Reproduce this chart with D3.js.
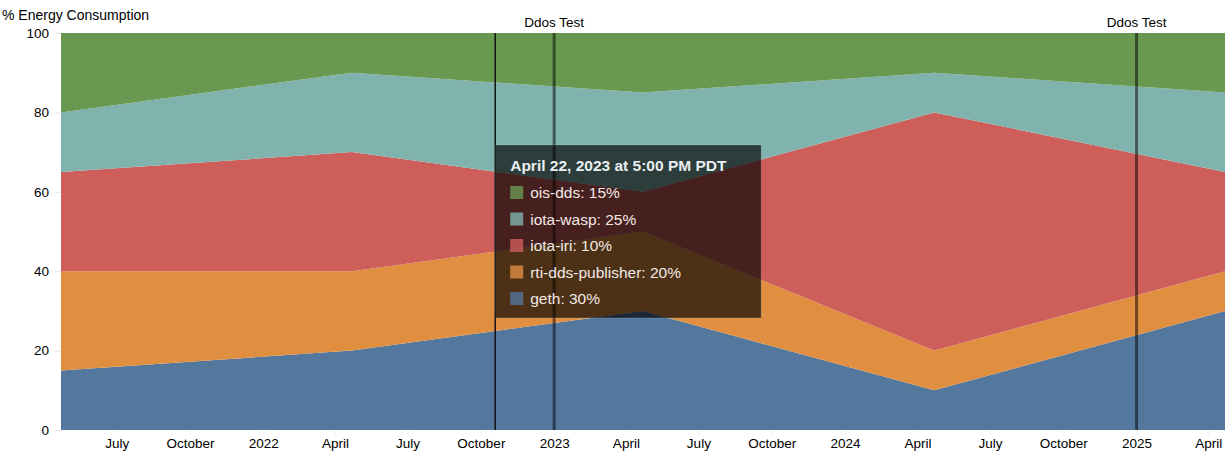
<!DOCTYPE html>
<html>
<head>
<meta charset="utf-8">
<script src="https://cdn.jsdelivr.net/npm/d3@7"></script>
<style>
  body { margin: 0; background: #fff; }
  text { font-family: "Liberation Sans", Arial, Helvetica, sans-serif; }
</style>
</head>
<body>
<script>
//sample dates (one reading a year)
var dates = ["2021-04-22", "2022-04-22", "2023-04-22", "2024-04-22", "2025-04-22"];

//share of energy per process, bottom to top
var geth = [15, 20, 30, 10, 30];
var rtiDdsPublisher = [25, 20, 20, 10, 10];
var iotaIri = [25, 30, 10, 60, 25];
var iotaWasp = [15, 20, 25, 10, 20];
var oisDds = [20, 10, 15, 10, 15];

var seriesNames = ["geth", "rti-dds-publisher", "iota-iri", "iota-wasp", "ois-dds"];
var seriesColors = ["#54779e", "#e08f41", "#cd5e5a", "#80b3ad", "#699951"];

var yTicks = [0, 20, 40, 60, 80, 100];

//annotation markers
var annotationDates = ["2023-01-01", "2025-01-01"];
var annotationLabels = ["Ddos Test", "Ddos Test"];

//hover state shown in the picture
var cursorDate = "2022-10-19";
var tooltipIndex = 2;
var tooltipTitle = "April 22, 2023 at 5:00 PM PDT";

window.onload = drawChart();

function drawChart(){
    var width = 1225,
        height = 453;
    var margin = {top: 33, right: 0, bottom: 23, left: 61};

    var parse = d3.timeParse("%Y-%m-%d");

    var svg = d3.select("body")
        .append("svg")
        .attr("width", width)
        .attr("height", height);

    var x = d3.scaleTime()
        .domain([parse(dates[0]), parse(dates[dates.length - 1])])
        .range([margin.left, width - margin.right]);

    var y = d3.scaleLinear()
        .domain([0, 100])
        .range([height - margin.bottom, margin.top]);

    //build rows for the stack
    var seriesValues = [geth, rtiDdsPublisher, iotaIri, iotaWasp, oisDds];
    var rows = dates.map(function(d, i){
        var row = {date: parse(d)};
        seriesNames.forEach(function(name, j){
            row[name] = seriesValues[j][i];
        });
        return row;
    });

    var stacked = d3.stack().keys(seriesNames)(rows);

    var area = d3.area()
        .x(function(d){ return x(d.data.date); })
        .y0(function(d){ return y(d[0]); })
        .y1(function(d){ return y(d[1]); });

    svg.selectAll(".layer")
        .data(stacked)
        .enter()
        .append("path")
        .attr("class", "layer")
        .attr("fill", function(d, i){ return seriesColors[i]; })
        .attr("d", area);

    //y axis
    var yAxis = svg.append("g")
        .attr("transform", "translate(" + margin.left + ",0)")
        .call(d3.axisLeft(y).tickValues(yTicks).tickSize(6).tickPadding(6));
    yAxis.select(".domain").remove();
    yAxis.selectAll(".tick line").attr("stroke", "#e6e6e6");
    yAxis.selectAll(".tick text")
        .attr("font-size", 13.5)
        .attr("fill", "#000");

    svg.append("text")
        .attr("x", 2)
        .attr("y", 20)
        .attr("font-size", 14)
        .attr("fill", "#000")
        .text("% Energy Consumption");

    //x axis
    var fmtMonth = d3.timeFormat("%B"),
        fmtYear = d3.timeFormat("%Y");
    var xAxis = svg.append("g")
        .attr("transform", "translate(0," + (height - margin.bottom) + ")")
        .call(d3.axisBottom(x)
            .ticks(d3.timeMonth.every(3))
            .tickSize(5)
            .tickPadding(3)
            .tickFormat(function(d){
                return d.getMonth() === 0 ? fmtYear(d) : fmtMonth(d);
            }));
    xAxis.select(".domain").remove();
    xAxis.selectAll(".tick line").attr("stroke", "#eeeeee");
    xAxis.selectAll(".tick text")
        .attr("font-size", 13.5)
        .attr("fill", "#000");

    //hover cursor
    svg.append("line")
        .attr("x1", x(parse(cursorDate)))
        .attr("x2", x(parse(cursorDate)))
        .attr("y1", margin.top)
        .attr("y2", height - margin.bottom)
        .attr("stroke", "#111")
        .attr("stroke-width", 1.5);

    //annotations
    var notes = svg.selectAll(".note")
        .data(annotationDates)
        .enter()
        .append("g")
        .attr("class", "note");

    notes.append("line")
        .attr("x1", function(d){ return x(parse(d)); })
        .attr("x2", function(d){ return x(parse(d)); })
        .attr("y1", margin.top)
        .attr("y2", height - margin.bottom)
        .attr("stroke", "rgba(0,0,0,0.5)")
        .attr("stroke-width", 3);

    notes.append("text")
        .attr("x", function(d){ return x(parse(d)); })
        .attr("y", 27)
        .attr("text-anchor", "middle")
        .attr("font-size", 13.5)
        .attr("fill", "#000")
        .text(function(d, i){ return annotationLabels[i]; });

    //tooltip
    var tipX = x(parse(cursorDate)), tipY = 145;
    var tip = svg.append("g")
        .attr("transform", "translate(" + tipX + "," + tipY + ")");

    tip.append("rect")
        .attr("width", 266)
        .attr("height", 173)
        .attr("fill", "rgba(0,0,0,0.66)")
        .attr("stroke", "rgba(255,255,255,0.15)")
        .attr("stroke-width", 1);

    tip.append("text")
        .attr("x", 15)
        .attr("y", 26)
        .attr("font-size", 15.5)
        .attr("font-weight", "bold")
        .attr("fill", "#e9eef0")
        .text(tooltipTitle);

    var order = seriesNames.map(function(n, i){ return i; }).reverse();
    var items = tip.selectAll(".item")
        .data(order)
        .enter()
        .append("g")
        .attr("class", "item")
        .attr("transform", function(d, i){ return "translate(15," + (41 + i * 26.5) + ")"; });

    items.append("rect")
        .attr("width", 13)
        .attr("height", 13)
        .attr("fill", function(d){ return seriesColors[d]; })
        .attr("opacity", 0.8);

    items.append("text")
        .attr("x", 20)
        .attr("y", 12)
        .attr("font-size", 15.5)
        .attr("fill", "#f1e9e6")
        .text(function(d){
            return seriesNames[d] + ": " + seriesValues[d][tooltipIndex] + "%";
        });
}
</script>
</body>
</html>
